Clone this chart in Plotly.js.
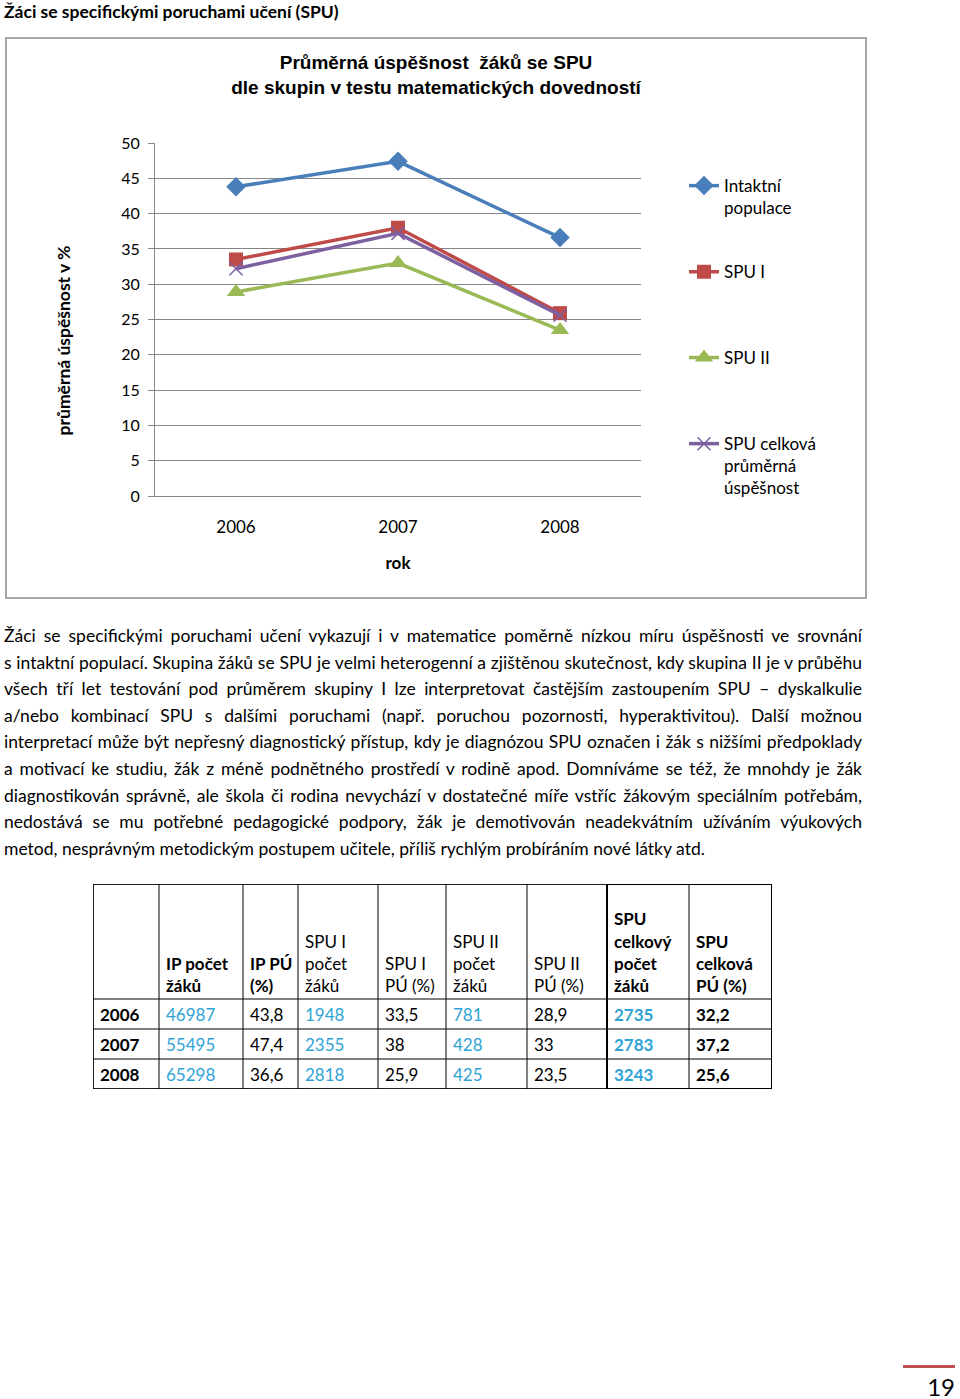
<!DOCTYPE html>
<html>
<head>
<meta charset="utf-8">
<script src="https://cdn.plot.ly/plotly-3.0.1.min.js"></script>
<style>
  body { margin: 0; background: #fff; width: 960px; height: 1399px; position: relative; font-family: Lato, "Noto Sans", sans-serif; color: #000; }
  #nadpis { position: absolute; left: 4px; top: 1px; font-size: 17.5px; font-weight: bold; }
  #graf { position: absolute; left: 5px; top: 37px; width: 858px; height: 558px; border: 2px solid #a6a6a6; }
  #text { position: absolute; left: 4px; top: 623px; width: 858px; font-size: 17.5px; line-height: 26.6px; }
  #text div { white-space: nowrap; text-align: justify; text-align-last: justify; }
  #text div.posledni { text-align-last: left; }
  #tabulka { position: absolute; left: 92px; top: 883px; width: 681px; height: 207px; }
  #strana { position: absolute; left: 903px; top: 1365px; width: 52px; border-top: 3px solid #c0504d; font-size: 24px; text-align: right; padding-top: 4px; }
</style>
</head>
<body>
<div id="nadpis">Žáci se specifickými poruchami učení (SPU)</div>
<div id="graf"></div>
<div id="text">
  <div>Žáci se specifickými poruchami učení vykazují i v matematice poměrně nízkou míru úspěšnosti ve srovnání</div>
  <div>s intaktní populací. Skupina žáků se SPU je velmi heterogenní a zjištěnou skutečnost, kdy skupina II je v průběhu</div>
  <div>všech tří let testování pod průměrem skupiny I lze interpretovat častějším zastoupením SPU – dyskalkulie</div>
  <div>a/nebo kombinací SPU s dalšími poruchami (např. poruchou pozornosti, hyperaktivitou). Další možnou</div>
  <div>interpretací může být nepřesný diagnostický přístup, kdy je diagnózou SPU označen i žák s nižšími předpoklady</div>
  <div>a motivací ke studiu, žák z méně podnětného prostředí v rodině apod. Domníváme se též, že mnohdy je žák</div>
  <div>diagnostikován správně, ale škola či rodina nevychází v dostatečné míře vstříc žákovým speciálním potřebám,</div>
  <div>nedostává se mu potřebné pedagogické podpory, žák je demotivován neadekvátním užíváním výukových</div>
  <div class="posledni">metod, nesprávným metodickým postupem učitele, příliš rychlým probíráním nové látky atd.</div>
</div>
<div id="tabulka"></div>
<div id="strana">19</div>

<script>
// --------- DATA
const roky = ['2006', '2007', '2008'];
// prumerna uspesnost (%)
const ipPU = [43.8, 47.4, 36.6];
const spu1PU = [33.5, 38, 25.9];
const spu2PU = [28.9, 33, 23.5];
const spuCelkPU = [32.2, 37.2, 25.6];
// pocty zaku
const ipPocet = [46987, 55495, 65298];
const spu1Pocet = [1948, 2355, 2818];
const spu2Pocet = [781, 428, 425];
const spuCelkPocet = [2735, 2783, 3243];

const nazvySerii = ['Intaktní<br>populace', 'SPU I', 'SPU II', 'SPU celková<br>průměrná<br>úspěšnost'];
const hlavicky = ['', '<b>IP počet</b><br><b>žáků</b>', '<b>IP PÚ</b><br><b>(%)</b>', 'SPU I<br>počet<br>žáků', 'SPU I<br>PÚ (%)',
  'SPU II<br>počet<br>žáků', 'SPU II<br>PÚ (%)', '<b>SPU</b><br><b>celkový</b><br><b>počet</b><br><b>žáků</b>', '<b>SPU</b><br><b>celková</b><br><b>PÚ (%)</b>'];

// --------- GRAF
const barvy = ['#4a7ebb', '#be4b48', '#98b954', '#7d60a0'];
const symboly = ['diamond', 'square', 'triangle-up', 'x-thin-open'];
const velikosti = [15, 14, 16, 13];
const hodnoty = [ipPU, spu1PU, spu2PU, spuCelkPU];
const legendy = ['legend', 'legend2', 'legend3', 'legend4'];

const stopy = hodnoty.map((h, i) => ({
  x: roky,
  y: h,
  type: 'scatter',
  mode: 'lines+markers',
  name: nazvySerii[i],
  legend: legendy[i],
  line: { color: barvy[i], width: 3.5 },
  marker: {
    symbol: symboly[i],
    size: velikosti[i],
    color: barvy[i],
    line: { color: barvy[i], width: i === 3 ? 1.5 : 0 }
  }
}));

function legenda(y) {
  return {
    x: 1.0885, xanchor: 'left', y: y, yanchor: 'top',
    valign: 'top', bgcolor: 'rgba(0,0,0,0)',
    font: { family: 'Lato', size: 17, color: '#000' }
  };
}

const layout = {
  width: 858,
  height: 558,
  margin: { l: 148, r: 224, t: 104, b: 101 },
  paper_bgcolor: '#fff',
  plot_bgcolor: '#fff',
  showlegend: true,
  title: {
    text: '<b>Průměrná úspěšnost  žáků se SPU<br>dle skupin v testu matematických dovedností</b>',
    font: { family: 'Liberation Sans', size: 19, color: '#000' },
    xref: 'container', x: 0.5, xanchor: 'center',
    yref: 'container', y: 0.946, yanchor: 'top'
  },
  xaxis: {
    type: 'category',
    range: [-0.5, 2.5],
    showgrid: false,
    showline: true, linecolor: '#868686', linewidth: 1,
    ticks: '',
    ticklabelstandoff: 16,
    tickfont: { family: 'Lato', size: 17, color: '#000' },
    title: { text: '<b>rok</b>', font: { family: 'Lato', size: 17, color: '#000' }, standoff: 20 }
  },
  yaxis: {
    range: [0, 50],
    dtick: 5,
    showgrid: true, gridcolor: '#868686', gridwidth: 1,
    zeroline: false,
    showline: true, linecolor: '#868686', linewidth: 1,
    ticks: 'outside', ticklen: 6, tickcolor: '#868686',
    ticklabelstandoff: 5,
    tickfont: { family: 'Lato', size: 16, color: '#000' }
  },
  legend: legenda(0.929),
  legend2: legenda(0.685),
  legend3: legenda(0.442),
  legend4: legenda(0.198),
  annotations: [{
    text: '<b>průměrná úspěšnost v %</b>',
    xref: 'paper', yref: 'paper', x: -0.212, y: 0.442,
    textangle: -90, showarrow: false,
    font: { family: 'Lato', size: 17.5, color: '#000' }
  }]
};

Plotly.newPlot('graf', stopy, layout, { displayModeBar: false, staticPlot: true });

// --------- TABULKA (text v osach, cary jako tvary)
const carka = n => String(n).replace('.', ',');

const sloupce = [
  roky.map(r => '<b>' + r + '</b>'),
  ipPocet.map(String),
  ipPU.map(carka),
  spu1Pocet.map(String),
  spu1PU.map(carka),
  spu2Pocet.map(String),
  spu2PU.map(carka),
  spuCelkPocet.map(v => '<b>' + v + '</b>'),
  spuCelkPU.map(v => '<b>' + carka(v) + '</b>')
];

const modra = '#2ea3d5';
const barvySloupcu = ['#000', modra, '#000', modra, '#000', modra, '#000', modra, '#000'];

// rozmery tabulky (v px)
const sirky = [66, 84, 55, 80, 68, 81, 80, 82, 83];
const vyskaHlavicky = 115;
const vyskaRadku = 30;
const okraj = 7;

const xHrany = [0];
sirky.forEach(s => xHrany.push(xHrany[xHrany.length - 1] + s));
const yHrany = [0, vyskaHlavicky];
roky.forEach(() => yHrany.push(yHrany[yHrany.length - 1] + vyskaRadku));
const sirkaTab = xHrany[xHrany.length - 1];
const vyskaTab = yHrany[yHrany.length - 1];

const pismo = { family: 'Lato', size: 17 };
const stopyTab = [];

// hlavicka - zarovnana dolu
stopyTab.push({
  type: 'scatter', mode: 'text',
  x: xHrany.slice(0, -1).map(x => x + okraj),
  y: sirky.map(() => vyskaHlavicky - 3),
  text: hlavicky,
  textposition: 'top right',
  textfont: Object.assign({ color: '#000' }, pismo),
  hoverinfo: 'skip', showlegend: false
});

// bunky
sloupce.forEach((hodnotySl, c) => {
  stopyTab.push({
    type: 'scatter', mode: 'text',
    x: hodnotySl.map(() => xHrany[c] + okraj),
    y: hodnotySl.map((v, r) => yHrany[r + 1] + vyskaRadku / 2 + 3),
    text: hodnotySl,
    textposition: 'middle right',
    textfont: Object.assign({ color: barvySloupcu[c] }, pismo),
    hoverinfo: 'skip', showlegend: false
  });
});

const cary = [];
xHrany.forEach(x => cary.push({ type: 'line', xref: 'x', yref: 'y', x0: x, x1: x, y0: 0, y1: vyskaTab, line: { color: '#000', width: 1 } }));
yHrany.forEach(y => cary.push({ type: 'line', xref: 'x', yref: 'y', x0: 0, x1: sirkaTab, y0: y, y1: y, line: { color: '#000', width: 1 } }));
cary.push({ type: 'rect', xref: 'x', yref: 'y', x0: 0, x1: sirkaTab, y0: 0, y1: vyskaTab, line: { color: '#000', width: 1.5 } });
cary.push({ type: 'rect', xref: 'x', yref: 'y', x0: xHrany[7], x1: sirkaTab, y0: 0, y1: vyskaTab, line: { color: '#000', width: 2 } });

const layoutTab = {
  width: 681,
  height: 207,
  margin: { l: 1, r: 1, t: 1, b: 1 },
  paper_bgcolor: 'rgba(0,0,0,0)',
  plot_bgcolor: 'rgba(0,0,0,0)',
  xaxis: { range: [0, sirkaTab], visible: false, fixedrange: true },
  yaxis: { range: [vyskaTab, 0], visible: false, fixedrange: true },
  shapes: cary
};

Plotly.newPlot('tabulka', stopyTab, layoutTab, { displayModeBar: false, staticPlot: true });
</script>
</body>
</html>
